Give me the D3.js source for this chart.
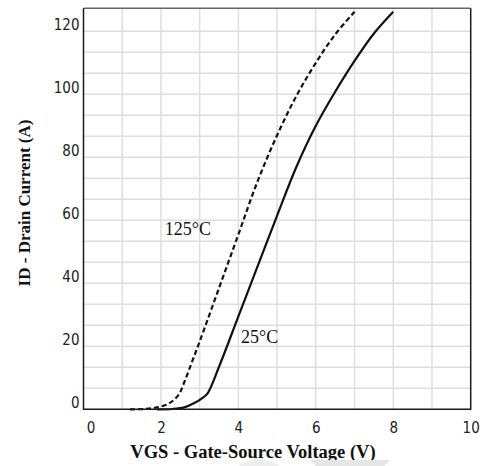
<!DOCTYPE html>
<html>
<head>
<meta charset="utf-8">
<script src="https://cdn.jsdelivr.net/npm/d3@7"></script>
<style>
  body { margin: 0; background: #fff; }
  .tick text { font-family: "Liberation Sans Narrow", "DejaVu Sans Condensed", sans-serif; font-size: 15px; fill: #222; }
</style>
</head>
<body>
<div id="chart"></div>
<script>
// DATA
const vgs25 = [1.9, 2.3, 2.6, 2.85, 3.05, 3.2, 3.5, 4.0, 4.5, 5.0, 5.5, 6.0, 6.5, 7.0, 7.5, 8.0];
const id25 = [0, 0.1, 0.6, 1.9, 3.4, 5.0, 13.5, 29.5, 45.5, 61.5, 77, 90, 100.8, 110.6, 119.3, 126.2];

const vgs125 = [1.2, 1.6, 1.9, 2.2, 2.45, 2.6, 2.8, 3.0, 3.5, 4.0, 4.5, 5.0, 5.5, 6.0, 6.5, 7.0];
const id125 = [0, 0.1, 0.6, 1.8, 4.5, 8.5, 15, 21.5, 38.5, 55.5, 72.5, 87, 99.5, 110, 119, 126.2];

const xTicks = [0, 2, 4, 6, 8, 10];
const yTicks = [0, 20, 40, 60, 80, 100, 120];
const curveLabels = [
  { t: "125°C", v: 2.1, i: 55.3 },
  { t: "25°C", v: 4.07, i: 21 }
];

const W = 485;
const H = 466;
const plot = { l: 83.5, t: 8.3, r: 470.7, b: 409.3 };

const svg = d3
  .select("#chart")
  .append("svg")
  .attr("width", W)
  .attr("height", H);

svg.append("rect").attr("width", W).attr("height", H).attr("fill", "#fff");

const x = d3.scaleLinear().domain([0, 10]).range([plot.l, plot.r]);
const y = d3.scaleLinear().domain([0, 127.3]).range([plot.b, plot.t]);

// grid
const grid = svg.append("g").attr("stroke", "#dedede").attr("stroke-width", 1.5);
grid
  .selectAll("line.gx")
  .data(d3.range(1, 10))
  .join("line")
  .attr("class", "gx")
  .attr("x1", (d) => x(d))
  .attr("x2", (d) => x(d))
  .attr("y1", plot.t)
  .attr("y2", plot.b);
grid
  .selectAll("line.gy")
  .data(d3.range(1, 19).map((k) => (k * 20) / 3))
  .join("line")
  .attr("class", "gy")
  .attr("x1", plot.l)
  .attr("x2", plot.r)
  .attr("y1", (d) => y(d))
  .attr("y2", (d) => y(d));

// curves
const line = d3
  .line()
  .x((d) => x(d[0]))
  .y((d) => y(d[1]))
  .curve(d3.curveCatmullRom.alpha(0.5));

svg
  .append("path")
  .datum(d3.zip(vgs125, id125))
  .attr("d", line)
  .attr("fill", "none")
  .attr("stroke", "#111")
  .attr("stroke-width", 2.2)
  .attr("stroke-dasharray", "5,3");

svg
  .append("path")
  .datum(d3.zip(vgs25, id25))
  .attr("d", line)
  .attr("fill", "none")
  .attr("stroke", "#111")
  .attr("stroke-width", 2.2);

// frame
svg
  .append("line")
  .attr("x1", plot.l).attr("x2", plot.r)
  .attr("y1", plot.t).attr("y2", plot.t)
  .attr("stroke", "#666").attr("stroke-width", 1.5);
svg
  .append("path")
  .attr("d", `M${plot.l},${plot.t}V${plot.b}H${plot.r}V${plot.t}`)
  .attr("fill", "none")
  .attr("stroke", "#1a1a1a")
  .attr("stroke-width", 1.5);

// axes (labels only)
svg
  .append("g")
  .attr("transform", `translate(0,${plot.b})`)
  .call(d3.axisBottom(x).tickValues(xTicks).tickSize(0).tickPadding(13))
  .call((g) => g.select(".domain").remove())
  .selectAll("text")
  .attr("dx", (d) => (d === 0 ? 7 : 0));

svg
  .append("g")
  .attr("transform", `translate(${plot.l},0)`)
  .call(d3.axisLeft(y).tickValues(yTicks).tickSize(0).tickPadding(4))
  .call((g) => g.select(".domain").remove())
  .selectAll("text")
  .attr("dy", "-0.15em");

// curve labels
svg
  .selectAll("text.clab")
  .data(curveLabels)
  .join("text")
  .attr("class", "clab")
  .attr("x", (d) => x(d.v))
  .attr("y", (d) => y(d.i))
  .attr("font-family", "Liberation Serif, serif")
  .attr("font-size", 18)
  .attr("fill", "#111")
  .text((d) => d.t);

// axis titles
svg
  .append("text")
  .attr("x", 253)
  .attr("y", 458)
  .attr("text-anchor", "middle")
  .attr("font-family", "Liberation Serif, serif")
  .attr("font-weight", "bold")
  .attr("font-size", 18.5)
  .attr("fill", "#111")
  .text("VGS - Gate-Source Voltage (V)");

svg
  .append("text")
  .attr("transform", "translate(30,203) rotate(-90)")
  .attr("text-anchor", "middle")
  .attr("font-family", "Liberation Serif, serif")
  .attr("font-weight", "bold")
  .attr("font-size", 17)
  .attr("fill", "#111")
  .text("ID - Drain Current (A)");

// faint watermark fragments at the bottom edge
svg
  .append("path")
  .attr("d", "M310,460 L390,460 L384,466 L316,466 Z")
  .attr("fill", "#e6e6e6");
svg
  .append("path")
  .attr("d", "M238,466 Q259,452 280,466 Z")
  .attr("fill", "#eeeeee");
</script>
</body>
</html>
